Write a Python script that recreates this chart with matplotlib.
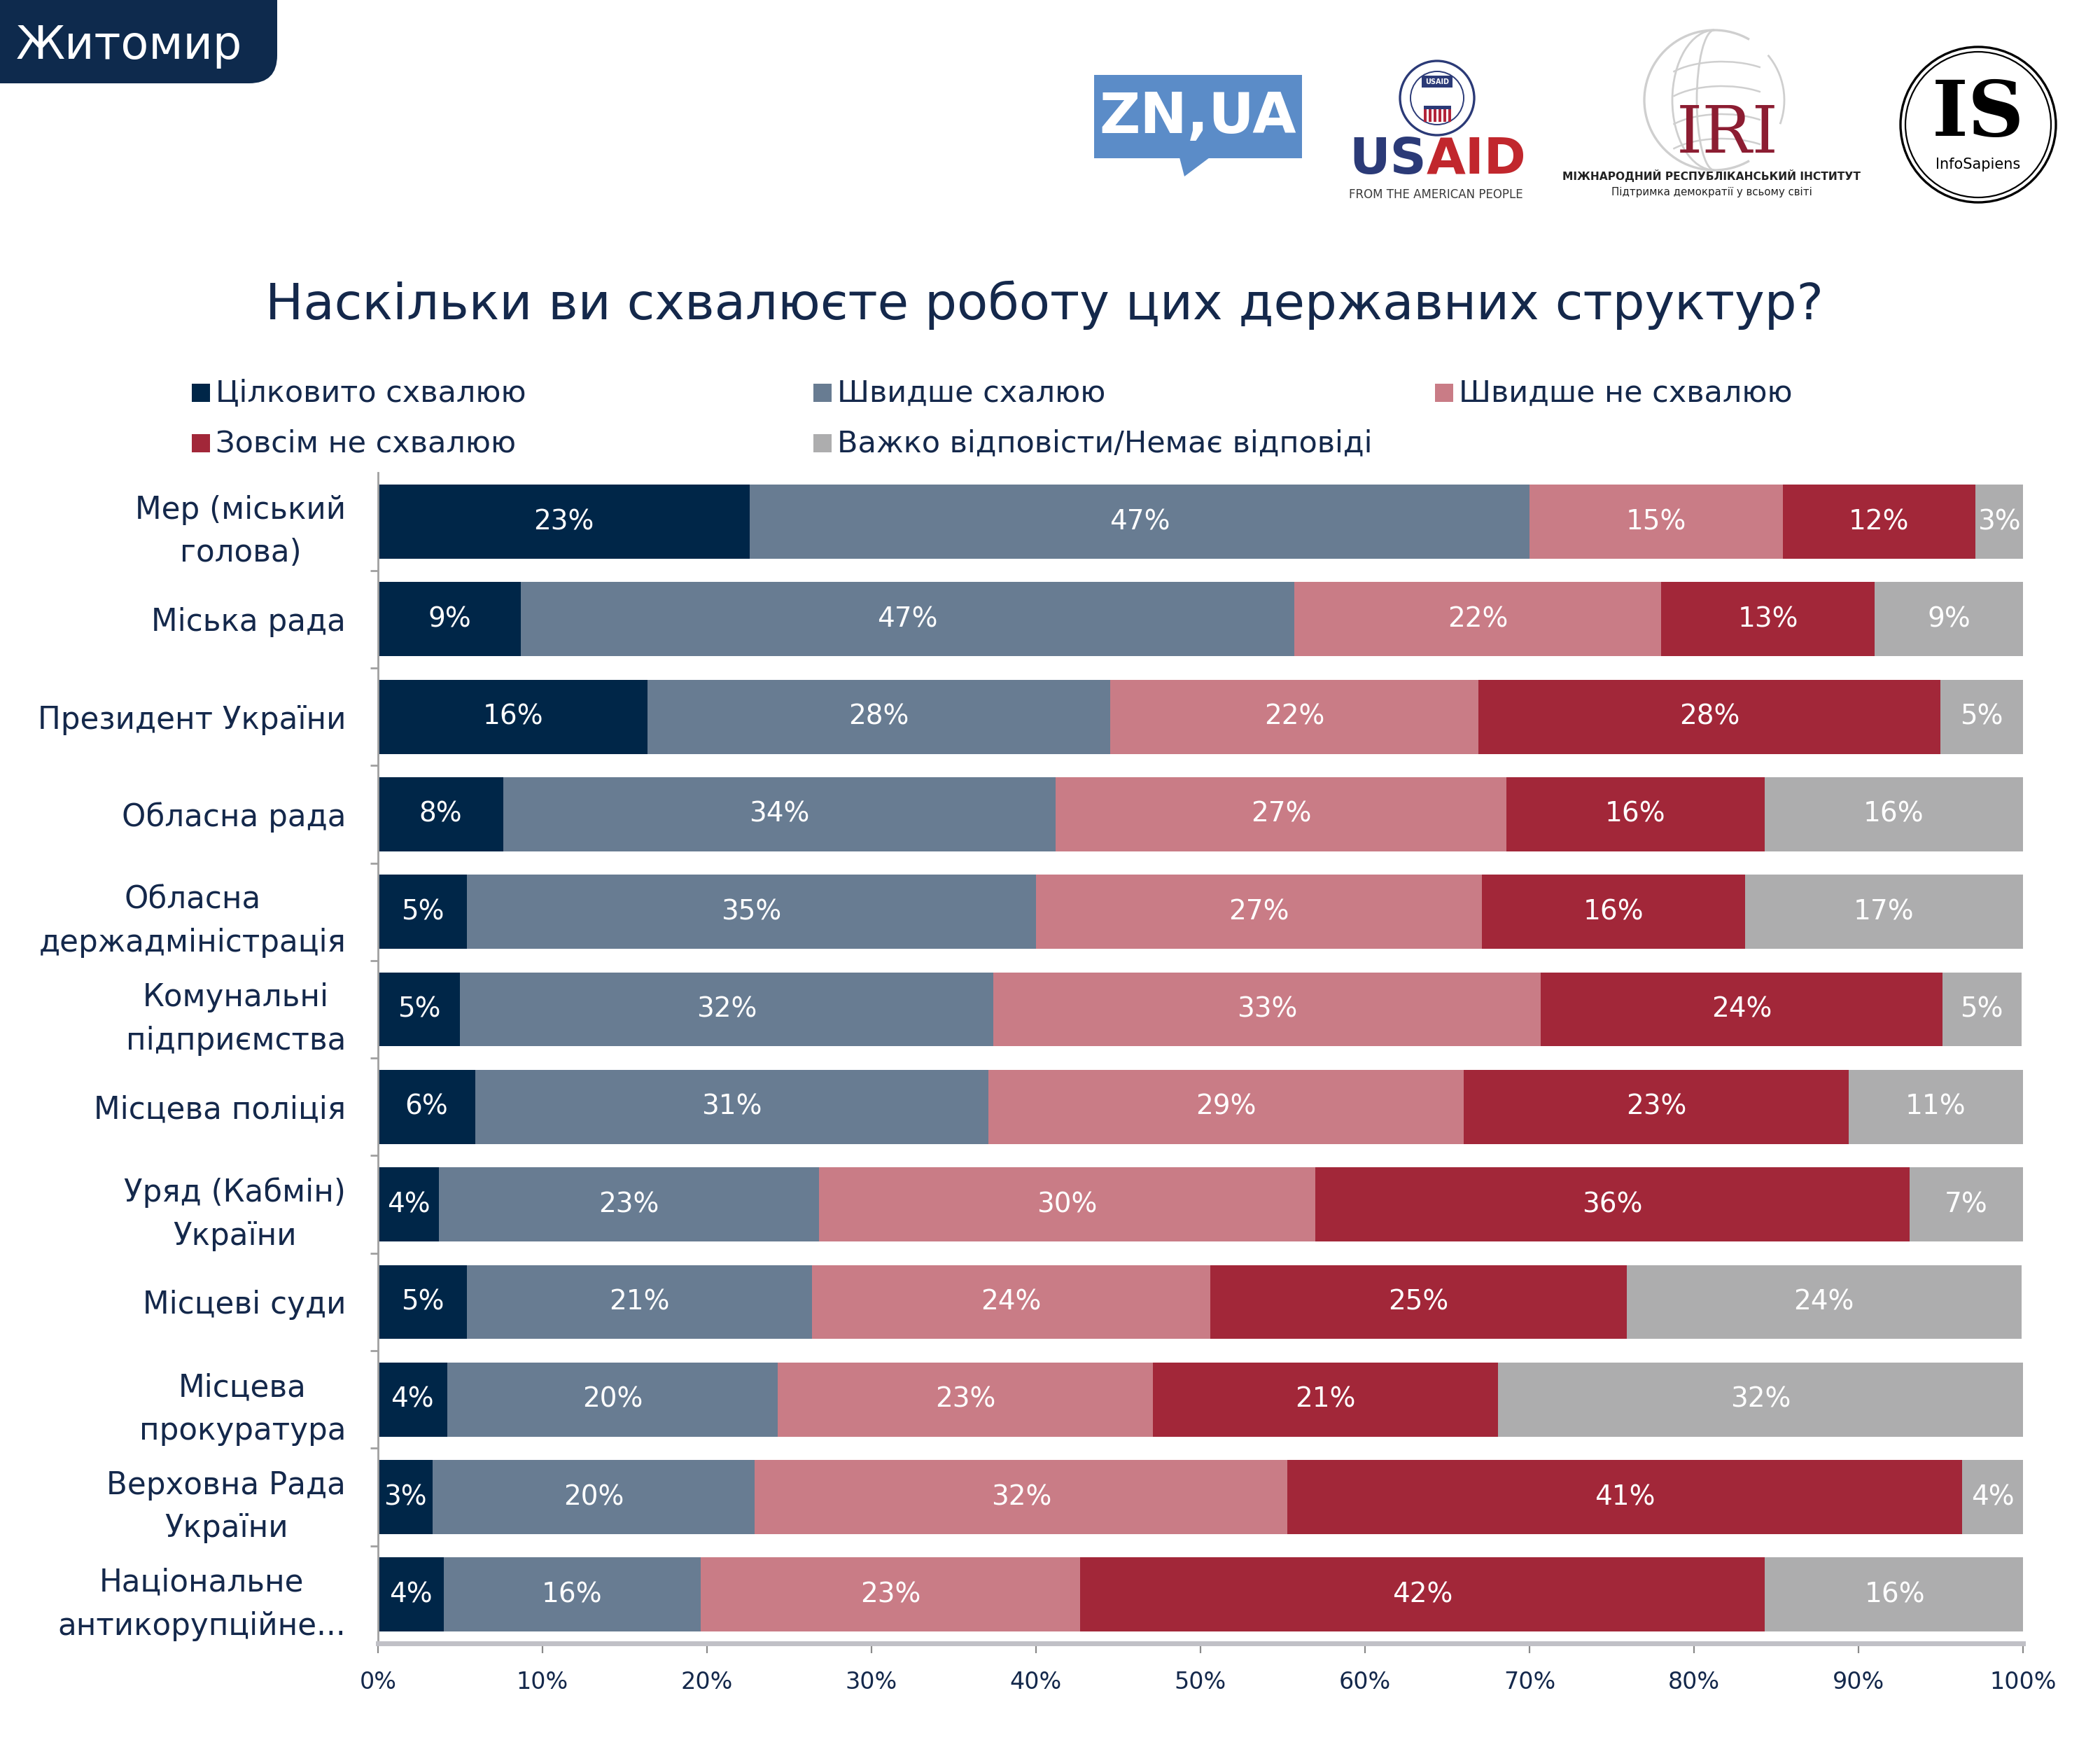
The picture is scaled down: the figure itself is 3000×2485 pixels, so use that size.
import numpy as np
import matplotlib
matplotlib.use('Agg')
import matplotlib.pyplot as plt
from matplotlib.patches import Rectangle, Circle, FancyBboxPatch, Polygon, Arc

## Dados (percentuais)
categories = ['Мер (міський\nголова)', 'Міська рада', 'Президент України', 'Обласна рада',
              'Обласна\nдержадміністрація', 'Комунальні\nпідприємства', 'Місцева поліція',
              'Уряд (Кабмін)\nУкраїни', 'Місцеві суди', 'Місцева\nпрокуратура',
              'Верховна Рада\nУкраїни', 'Національне\nантикорупційне...']
full_yes   = [22.6, 8.7, 16.4, 7.6, 5.4, 5.0, 5.9, 3.7, 5.4, 4.2, 3.3, 4.0]
rather_yes = [47.4, 47.0, 28.1, 33.6, 34.6, 32.4, 31.2, 23.1, 21.0, 20.1, 19.6, 15.6]
rather_no  = [15.4, 22.3, 22.4, 27.4, 27.1, 33.3, 28.9, 30.2, 24.2, 22.8, 32.4, 23.1]
full_no    = [11.7, 13.0, 28.1, 15.7, 16.0, 24.4, 23.4, 36.1, 25.3, 21.0, 41.0, 41.6]
no_answer  = [2.9, 9.0, 5.0, 15.7, 16.9, 4.8, 10.6, 6.9, 24.0, 31.9, 3.7, 15.8]

series = [full_yes, rather_yes, rather_no, full_no, no_answer]
series_names = ['Цілковито схвалюю', 'Швидше схалюю', 'Швидше не схвалюю',
                'Зовсім не схвалюю', 'Важко відповісти/Немає відповіді']
colors = ['#002648', '#687c92', '#c97c86', '#a22739', '#adadae']
xticks = [0, 10, 20, 30, 40, 50, 60, 70, 80, 90, 100]

title = 'Наскільки ви схвалюєте роботу цих державних структур?'
city = 'Житомир'

text_color = '#14284b'
plt.rcParams['font.family'] = 'DejaVu Sans'

fig = plt.figure(figsize=(15, 12.425), dpi=200)

## camada em coordenadas de pixel para cabeçalho, logos e legenda
ov = fig.add_axes([0, 0, 1, 1])
ov.set_xlim(0, 3000)
ov.set_ylim(2485, 0)
ov.axis('off')

# caixa da cidade
ov.add_patch(FancyBboxPatch((-80, -80), 476, 199, boxstyle='round,pad=0,rounding_size=40',
                            facecolor='#0e2a4d', edgecolor='none'))
ov.text(23, 66, city, color='white', fontsize=23.5, ha='left', va='center')

# logo ZN,UA
ov.add_patch(Rectangle((1563, 107), 297, 119, facecolor='#5b8cc8', edgecolor='none'))
ov.add_patch(Polygon([(1685, 225), (1728, 225), (1692, 252)], closed=True,
                     facecolor='#5b8cc8', edgecolor='none'))
ov.text(1711, 168, 'ZN,UA', color='white', fontsize=29, fontweight='bold', ha='center', va='center')

# logo USAID
ov.add_patch(Circle((2053, 140), 53, facecolor='white', edgecolor='#2b3a77', lw=1.2))
ov.add_patch(Circle((2053, 140), 38, facecolor='white', edgecolor='#2b3a77', lw=0.7))
ov.add_patch(Rectangle((2031, 108), 44, 17, facecolor='#2b3a77', edgecolor='none'))
ov.text(2053, 117, 'USAID', color='white', fontsize=3.5, fontweight='bold', ha='center', va='center')
for k in range(6):
    ov.add_patch(Rectangle((2034 + k * 7, 156), 4, 18, facecolor='#b3243a', edgecolor='none'))
ov.add_patch(Rectangle((2034, 151), 39, 5, facecolor='#2b3a77', edgecolor='none'))
ov.text(2038, 248, 'US', color='#2b3a77', fontsize=26, fontweight='bold', ha='right', va='baseline')
ov.text(2038, 248, 'AID', color='#c1272d', fontsize=26, fontweight='bold', ha='left', va='baseline')
ov.text(2051, 278, 'FROM THE AMERICAN PEOPLE', color='#3a3a3a', fontsize=6.0, ha='center', va='center')

# logo IRI
gray_line = '#cfcfcf'
ov.add_patch(Arc((2449, 143), 200, 200, theta1=60, theta2=300, color=gray_line, lw=1.2))
ov.add_patch(Arc((2449, 143), 120, 200, theta1=90, theta2=270, color=gray_line, lw=1.0))
ov.add_patch(Arc((2449, 143), 50, 200, theta1=90, theta2=270, color=gray_line, lw=1.0))
ov.add_patch(Arc((2449, 143), 200, 200, theta1=-40, theta2=20, color=gray_line, lw=1.0))
for dy in (-55, -20, 20, 55):
    ov.add_patch(Arc((2460, 143 + dy + 40), 180, 80, theta1=200, theta2=330, color=gray_line, lw=0.9))
ov.text(2468, 192, 'IRI', color='#8c1d32', fontsize=34, family='DejaVu Serif', ha='center', va='center')
ov.text(2445, 251, 'МІЖНАРОДНИЙ РЕСПУБЛІКАНСЬКИЙ ІНСТИТУТ', color='#222222', fontsize=5.6,
        fontweight='bold', ha='center', va='center')
ov.text(2445, 274, 'Підтримка демократії у всьому світі', color='#222222', fontsize=5.4,
        ha='center', va='center')

# logo InfoSapiens
ov.add_patch(Circle((2826, 178), 111, facecolor='none', edgecolor='black', lw=1.2))
ov.add_patch(Circle((2826, 178), 104, facecolor='none', edgecolor='black', lw=0.8))
ov.text(2826, 194, 'IS', color='black', fontsize=40, fontweight='bold', family='DejaVu Serif',
        ha='center', va='baseline')
ov.text(2826, 235, 'InfoSapiens', color='black', fontsize=7.5, ha='center', va='center')

# título
ov.text(1492, 436, title, color=text_color, fontsize=26, ha='center', va='center')

# legenda manual (3 colunas, preenchida por linhas)
for i, (name, col) in enumerate(zip(series_names, colors)):
    cx = 274 + (i % 3) * 888
    cy = 561 + (i // 3) * 72
    ov.add_patch(Rectangle((cx, cy - 13), 26, 26, facecolor=col, edgecolor='none'))
    ov.text(cx + 34, cy, name, color=text_color, fontsize=15.5, ha='left', va='center')

## Gráfico de barras empilhadas
ax = fig.add_axes([0.18, 0.05553, 0.7833, 0.6727])
y = np.arange(len(categories))
left = np.zeros(len(categories))
for vals, col in zip(series, colors):
    vals = np.array(vals)
    ax.barh(y, vals, left=left, height=0.76, color=col, edgecolor='none')
    for yi, l, v in zip(y, left, vals):
        ax.text(l + v / 2, yi, f'{v:.0f}%', color='white', fontsize=14, ha='center', va='center')
    left += vals

ax.set_xlim(0, 100)
ax.set_ylim(len(categories) - 0.5, -0.5)
ax.set_xticks(xticks)
ax.set_xticklabels([f'{t}%' for t in xticks])
ax.set_yticks(y)
ax.set_yticklabels(categories, multialignment='center', linespacing=1.55)
ax.set_yticks(y[:-1] + 0.5, minor=True)

ax.tick_params(axis='y', which='major', length=0, pad=16.5, labelsize=15.7, labelcolor=text_color)
ax.tick_params(axis='y', which='minor', length=4, width=1, color='#a0a0a0', direction='out')
ax.tick_params(axis='x', which='major', length=5, width=0.8, color='#8a8a8a', direction='out',
               pad=9, labelsize=12, labelcolor=text_color)

for s in ['top', 'right']:
    ax.spines[s].set_visible(False)
ax.spines['left'].set_color('#a0a0a0')
ax.spines['left'].set_linewidth(1.0)
ax.spines['bottom'].set_color('#c0c0c6')
ax.spines['bottom'].set_linewidth(2.5)

fig.savefig('out.png', dpi=200)
